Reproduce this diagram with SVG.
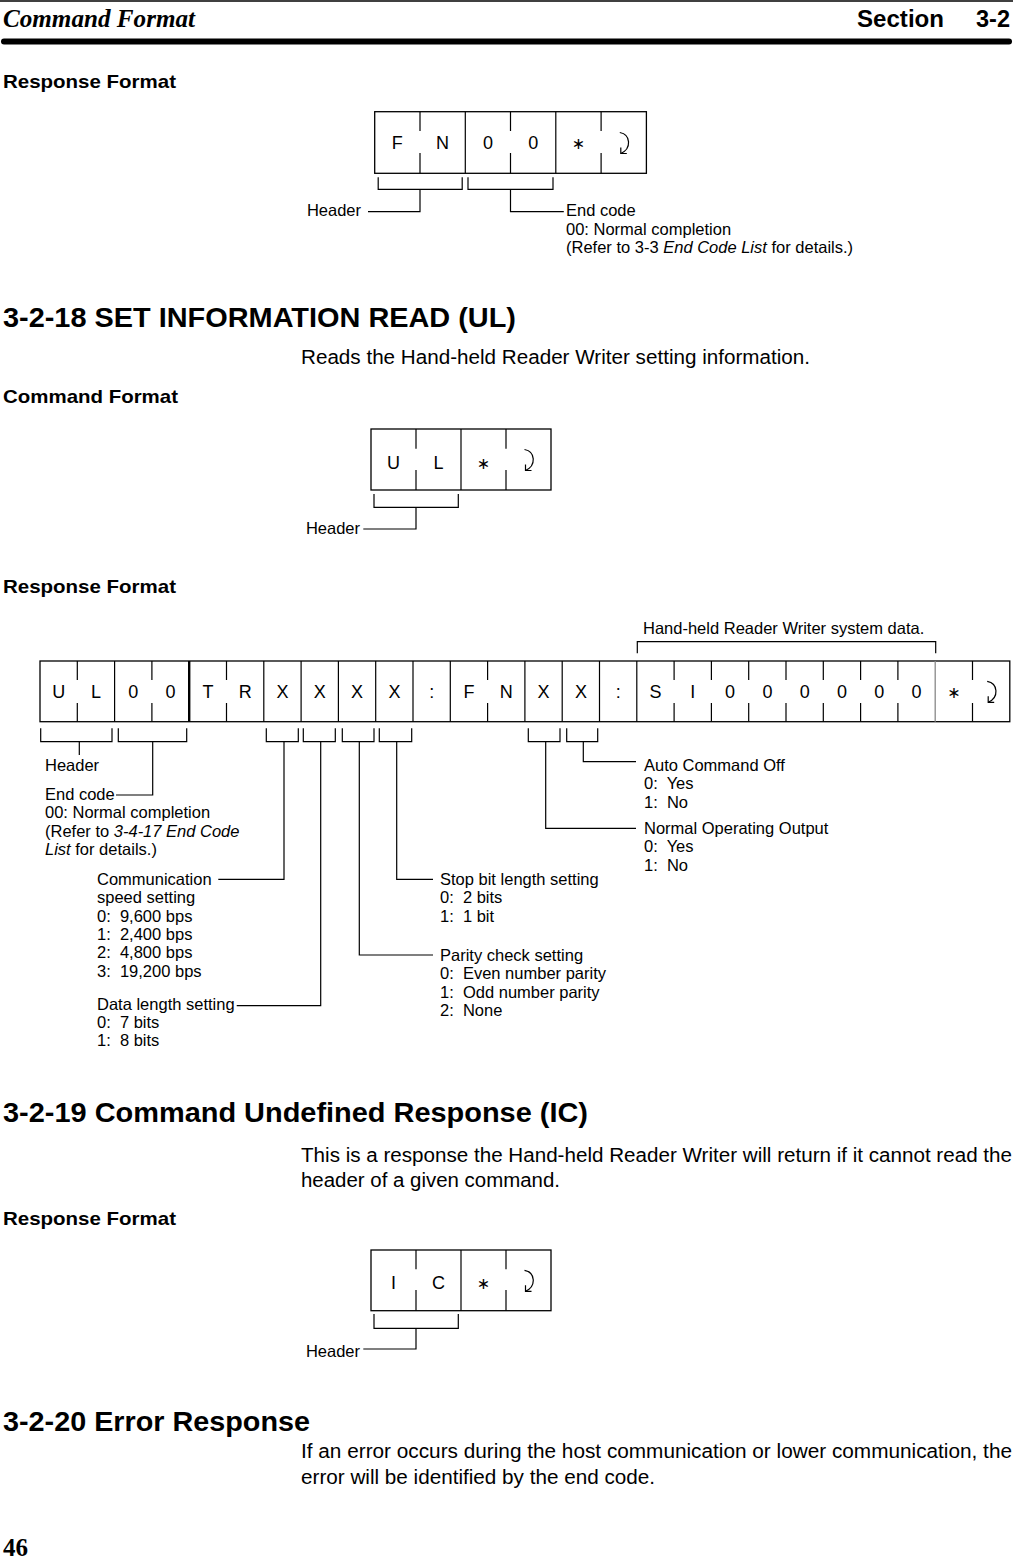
<svg xmlns="http://www.w3.org/2000/svg" width="1013" height="1558" viewBox="0 0 1013 1558">
<style>
text { font-family: "Liberation Sans", Arial, sans-serif; fill: #000; }
.t { font-size: 16.5px; white-space: pre; }
.c { font-size: 18px; text-anchor: middle; }
.ast { font-family: "DejaVu Sans", sans-serif; font-size: 16px; text-anchor: middle; }
.ln { stroke: #000; stroke-width: 1.2; fill: none; }
.bx { stroke: #000; stroke-width: 1.3; fill: #fff; }
.h2 { font-size: 28px; font-weight: bold; }
.sub { font-size: 19px; font-weight: bold; }
.body { font-size: 20px; }
</style>
<defs>
<g id="ret" fill="none" stroke="#000" stroke-width="1.2">
<path d="M-4,-10 C7,-8 8,6 -3,11"/>
<path d="M-3,5 L-3,11 L3,11"/>
</g>
</defs>

<!-- page header -->
<g id="page-header">
<line x1="0" y1="1" x2="1013" y2="1" stroke="#000" stroke-width="1.5"/>
<text x="3" y="27" style="font-family:'Liberation Serif',serif" font-style="italic" font-weight="bold" font-size="25" textLength="192" lengthAdjust="spacingAndGlyphs">Command Format</text>
<text x="857" y="27" font-weight="bold" font-size="23" textLength="87" lengthAdjust="spacingAndGlyphs">Section</text>
<text x="976" y="27" font-weight="bold" font-size="23" textLength="34" lengthAdjust="spacingAndGlyphs">3-2</text>
<line x1="4" y1="41.5" x2="1009" y2="41.5" stroke="#000" stroke-width="6" stroke-linecap="round"/>
</g>

<text class="sub" x="3" y="88" textLength="173" lengthAdjust="spacingAndGlyphs">Response Format</text>

<!-- FN response box -->
<g id="fn-box">
<rect class="bx" x="374.7" y="111.7" width="271.7" height="61.6"/>
<line class="ln" x1="465.3" y1="111.7" x2="465.3" y2="173.3"/>
<line class="ln" x1="555.8" y1="111.7" x2="555.8" y2="173.3"/>
<path class="ln" d="M420,111.7 V131 M420,153 V173.3 M510.5,111.7 V131 M510.5,153 V173.3 M601.1,111.7 V131 M601.1,153 V173.3"/>
<text class="c" x="397.3" y="149">F</text>
<text class="c" x="442.6" y="149">N</text>
<text class="c" x="487.9" y="149">0</text>
<text class="c" x="533.2" y="149">0</text>
<text class="ast" x="578.5" y="149">∗</text>
<use href="#ret" x="623.8" y="142.5"/>
</g>
<g id="fn-connectors">
<path class="ln" d="M378.2,177.3 V189.3 H462.2 V177.3 M420,189.3 V211.7 H368"/>
<path class="ln" d="M468,177.3 V189.3 H553 V177.3 M510.5,189.3 V211.7 H563.8"/>
</g>
<g id="fn-labels">
<text class="t" x="361" y="216" text-anchor="end">Header</text>
<text class="t" x="566" y="216">End code</text>
<text class="t" x="566" y="234.5">00: Normal completion</text>
<text class="t" x="566" y="253">(Refer to 3-3 <tspan font-style="italic">End Code List</tspan> for details.)</text>
</g>

<text class="h2" x="3" y="327" textLength="513" lengthAdjust="spacingAndGlyphs">3-2-18 SET INFORMATION READ (UL)</text>
<text class="body" x="301" y="364" textLength="509" lengthAdjust="spacingAndGlyphs">Reads the Hand-held Reader Writer setting information.</text>
<text class="sub" x="3" y="403" textLength="175" lengthAdjust="spacingAndGlyphs">Command Format</text>

<!-- UL command box -->
<g id="ul-box">
<rect class="bx" x="371" y="429" width="180" height="61"/>
<line class="ln" x1="461" y1="429" x2="461" y2="490"/>
<path class="ln" d="M416,429 V448.7 M416,470 V490 M506,429 V448.7 M506,470 V490"/>
<text class="c" x="393.5" y="469">U</text>
<text class="c" x="438.5" y="469">L</text>
<text class="ast" x="483.5" y="469">∗</text>
<use href="#ret" x="528.5" y="459.5"/>
</g>
<g id="ul-connectors">
<path class="ln" d="M374,494 V507.3 H458.3 V494 M416,507.3 V529 H363.3"/>
</g>
<text class="t" x="360" y="533.5" text-anchor="end">Header</text>

<text class="sub" x="3" y="593" textLength="173" lengthAdjust="spacingAndGlyphs">Response Format</text>

<!-- UL response row -->
<g id="ul-response-row">
<rect class="bx" x="40" y="661" width="969.8" height="60.7"/>
<path class="ln" d="M114.6,661 V721.7 M263.8,661 V721.7 M301.1,661 V721.7 M338.4,661 V721.7 M375.7,661 V721.7 M413,661 V721.7 M450.3,661 V721.7 M524.9,661 V721.7 M562.2,661 V721.7 M599.5,661 V721.7 M636.8,661 V721.7"/>
<line x1="189.2" y1="661" x2="189.2" y2="721.7" stroke="#000" stroke-width="2.4"/>
<line x1="935.2" y1="661" x2="935.2" y2="721.7" stroke="#888" stroke-width="1.3"/>
<path class="ln" d="M77.3,661 V680 M77.3,703 V721.7 M151.9,661 V680 M151.9,703 V721.7 M226.5,661 V680 M226.5,703 V721.7 M487.6,661 V680 M487.6,703 V721.7 M674.1,661 V680 M674.1,703 V721.7 M711.4,661 V680 M711.4,703 V721.7 M748.7,661 V680 M748.7,703 V721.7 M786,661 V680 M786,703 V721.7 M823.3,661 V680 M823.3,703 V721.7 M860.6,661 V680 M860.6,703 V721.7 M897.9,661 V680 M897.9,703 V721.7 M972.5,661 V680 M972.5,703 V721.7"/>
<text class="c" x="58.7" y="698">U</text>
<text class="c" x="96" y="698">L</text>
<text class="c" x="133.3" y="698">0</text>
<text class="c" x="170.6" y="698">0</text>
<text class="c" x="207.9" y="698">T</text>
<text class="c" x="245.2" y="698">R</text>
<text class="c" x="282.5" y="698">X</text>
<text class="c" x="319.8" y="698">X</text>
<text class="c" x="357.1" y="698">X</text>
<text class="c" x="394.4" y="698">X</text>
<text class="c" x="431.7" y="698">:</text>
<text class="c" x="469" y="698">F</text>
<text class="c" x="506.3" y="698">N</text>
<text class="c" x="543.6" y="698">X</text>
<text class="c" x="580.9" y="698">X</text>
<text class="c" x="618.2" y="698">:</text>
<text class="c" x="655.5" y="698">S</text>
<text class="c" x="692.8" y="698">I</text>
<text class="c" x="730.1" y="698">0</text>
<text class="c" x="767.4" y="698">0</text>
<text class="c" x="804.7" y="698">0</text>
<text class="c" x="842" y="698">0</text>
<text class="c" x="879.3" y="698">0</text>
<text class="c" x="916.6" y="698">0</text>
<text class="ast" x="953.9" y="698">∗</text>
<use href="#ret" x="991.2" y="691.3"/>
</g>

<g id="ul-response-connectors">
<path class="ln" d="M637.3,653.3 V641.7 H935.7 V653.3"/>
<path class="ln" d="M40.7,728.3 V741.7 H112 V728.3 M79.3,741.7 V755"/>
<path class="ln" d="M118.3,728.3 V741.7 H186.7 V728.3 M152.7,741.7 V795 H116"/>
<path class="ln" d="M266.3,728.3 V741.7 H298.3 V728.3 M284,741.7 V879.3 H218.3"/>
<path class="ln" d="M303.3,728.3 V741.7 H335.3 V728.3 M320.7,741.7 V1005.7 H236.7"/>
<path class="ln" d="M342.3,728.3 V741.7 H374 V728.3 M359.3,741.7 V955 H433"/>
<path class="ln" d="M379.3,728.3 V741.7 H411.7 V728.3 M396.7,741.7 V879.3 H433"/>
<path class="ln" d="M528.3,728.3 V741.7 H560 V728.3 M545.7,741.7 V828.3 H636"/>
<path class="ln" d="M566.7,728.3 V741.7 H597.7 V728.3 M583.3,741.7 V761.7 H636"/>
</g>

<g id="ul-response-labels">
<text class="t" x="643" y="634">Hand-held Reader Writer system data.</text>
<text class="t" x="45" y="771">Header</text>
<text class="t" x="45" y="800">End code</text>
<text class="t" x="45" y="818.3">00: Normal completion</text>
<text class="t" x="45" y="836.6">(Refer to <tspan font-style="italic">3-4-17 End Code</tspan></text>
<text class="t" x="45" y="854.9"><tspan font-style="italic">List</tspan> for details.)</text>
<text class="t" x="97" y="885">Communication</text>
<text class="t" x="97" y="903.3">speed setting</text>
<text class="t" x="97" y="921.6">0:  9,600 bps</text>
<text class="t" x="97" y="939.9">1:  2,400 bps</text>
<text class="t" x="97" y="958.2">2:  4,800 bps</text>
<text class="t" x="97" y="976.5">3:  19,200 bps</text>
<text class="t" x="97" y="1009.5">Data length setting</text>
<text class="t" x="97" y="1027.8">0:  7 bits</text>
<text class="t" x="97" y="1046.1">1:  8 bits</text>
<text class="t" x="440" y="885">Stop bit length setting</text>
<text class="t" x="440" y="903.3">0:  2 bits</text>
<text class="t" x="440" y="921.6">1:  1 bit</text>
<text class="t" x="440" y="961">Parity check setting</text>
<text class="t" x="440" y="979.3">0:  Even number parity</text>
<text class="t" x="440" y="997.6">1:  Odd number parity</text>
<text class="t" x="440" y="1015.9">2:  None</text>
<text class="t" x="644" y="771">Auto Command Off</text>
<text class="t" x="644" y="789.3">0:  Yes</text>
<text class="t" x="644" y="807.6">1:  No</text>
<text class="t" x="644" y="834">Normal Operating Output</text>
<text class="t" x="644" y="852.3">0:  Yes</text>
<text class="t" x="644" y="870.6">1:  No</text>
</g>

<text class="h2" x="3" y="1122" textLength="585" lengthAdjust="spacingAndGlyphs">3-2-19 Command Undefined Response (IC)</text>
<text class="body" x="301" y="1162" textLength="711" lengthAdjust="spacingAndGlyphs">This is a response the Hand-held Reader Writer will return if it cannot read the</text>
<text class="body" x="301" y="1187" textLength="259" lengthAdjust="spacingAndGlyphs">header of a given command.</text>
<text class="sub" x="3" y="1225" textLength="173" lengthAdjust="spacingAndGlyphs">Response Format</text>

<!-- IC response box -->
<g id="ic-box">
<rect class="bx" x="371" y="1250" width="180" height="60.7"/>
<line class="ln" x1="461" y1="1250" x2="461" y2="1310.7"/>
<path class="ln" d="M416,1250 V1269.3 M416,1290 V1310.7 M506,1250 V1269.3 M506,1290 V1310.7"/>
<text class="c" x="393.5" y="1289">I</text>
<text class="c" x="438.5" y="1289">C</text>
<text class="ast" x="483.5" y="1289">∗</text>
<use href="#ret" x="528.5" y="1280.3"/>
</g>
<g id="ic-connectors">
<path class="ln" d="M374,1314 V1328.3 H458.3 V1314 M416,1328.3 V1349 H363.3"/>
</g>
<text class="t" x="360" y="1357" text-anchor="end">Header</text>

<text class="h2" x="3" y="1431" textLength="307" lengthAdjust="spacingAndGlyphs">3-2-20 Error Response</text>
<text class="body" x="301" y="1458" textLength="711" lengthAdjust="spacingAndGlyphs">If an error occurs during the host communication or lower communication, the</text>
<text class="body" x="301" y="1484" textLength="354" lengthAdjust="spacingAndGlyphs">error will be identified by the end code.</text>

<text x="3" y="1556" style="font-family:'Liberation Serif',serif" font-weight="bold" font-size="25">46</text>
</svg>
